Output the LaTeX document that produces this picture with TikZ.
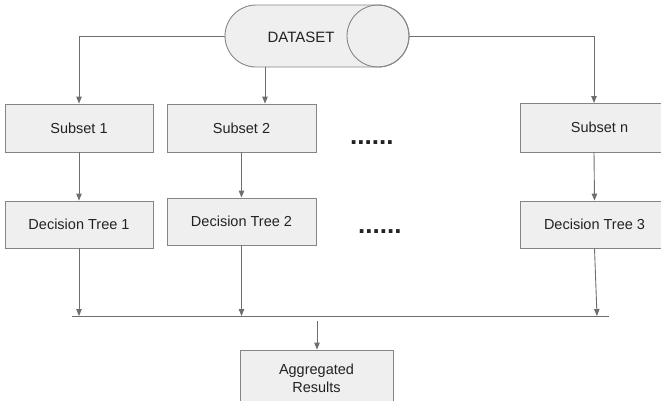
\documentclass[tikz,border=0pt]{standalone}
\usepackage{fontspec}
\setmainfont{Liberation Sans}
\usetikzlibrary{arrows.meta}
\definecolor{boxfill}{HTML}{EFEFEF}
\definecolor{boxline}{HTML}{858585}
\definecolor{wire}{HTML}{6E6E6E}
\definecolor{ink}{HTML}{222222}
\begin{document}
\begin{tikzpicture}[x=1bp,y=-1bp,
  stagebox/.style={draw=boxline,fill=boxfill,line width=0.9bp,
    minimum width=148bp,minimum height=48bp,inner sep=0pt,
    text=ink,font=\fontsize{14.5bp}{17bp}\selectfont},
  arr/.style={draw=wire,line width=0.9bp,
    -{Triangle[width=5.5bp,length=7bp]}},
  wireline/.style={draw=wire,line width=0.9bp},
  dots/.style={inner sep=0pt,text=ink,anchor=base west,
    font=\fontsize{26bp}{26bp}\selectfont\bfseries}]
\useasboundingbox (0,0) rectangle (661,400);
\clip (0,0) rectangle (661,400);

% dataset cylinder (y axis points down, so angles run clockwise on the page)
\draw[boxline,fill=boxfill,line width=0.9bp]
  (256,5) -- (378,5) arc[start angle=-90,end angle=90,x radius=31,y radius=31]
  -- (256,67) arc[start angle=90,end angle=270,x radius=31,y radius=31] -- cycle;
\draw[boxline,line width=0.9bp] (378,36) ellipse[x radius=31,y radius=31];
\node[text=ink,font=\fontsize{15bp}{18bp}\selectfont,inner sep=0pt] (ds) at (301,37) {DATASET};
\coordinate (dsL) at (225,36);
\coordinate (dsR) at (409,36);
\coordinate (dsB) at (265,67);

% subsets
\node[stagebox] (s1) at (79,128) {Subset 1};
\node[stagebox,minimum width=149bp] (s2) at (241.5,128) {Subset 2};
\node[stagebox,minimum width=159bp,minimum height=49bp] (sn) at (599.5,127.5) {Subset n};

% trees
\node[stagebox,minimum height=47bp] (t1) at (79,224.5) {Decision Tree 1};
\node[stagebox,minimum width=149bp,minimum height=47bp] (t2) at (241.5,221.5) {Decision Tree 2};
\node[stagebox,minimum width=149bp,minimum height=47bp] (t3) at (594.5,224.5) {Decision Tree 3};

% aggregation
\node[stagebox,minimum width=153bp,minimum height=56bp,align=center,
  font=\fontsize{14.5bp}{18bp}\selectfont] (agg) at (316.5,378) {Aggregated\\Results};

% ellipsis between columns
\node[dots] (d1) at (350,144) {......};
\node[dots] (d2) at (358,233) {......};

% bus collecting tree outputs
\coordinate (bl) at (72,316);
\coordinate (br) at (609,316);
\coordinate (aggTop) at (317,321);
\coordinate (snTop) at (594,103);

% connectors
\draw[arr] (dsL) -| (s1.north);
\draw[arr] (dsB) -- (dsB |- s2.north);
\draw[arr] (dsR) -| (snTop);
\draw[arr] (s1) -- (t1);
\draw[arr] (s2) -- (t2);
\draw[arr] (594,152) -- (t3.north);
\draw[arr] (t1.south) -- (t1.south |- bl);
\draw[arr] (t2.south) -- (t2.south |- bl);
\draw[arr] (t3.south) -- ([xshift=2.5bp]t3.south |- bl);
\draw[wireline] (bl) -- (br);
\draw[arr] (aggTop) -- (aggTop |- agg.north);
\end{tikzpicture}
\end{document}
